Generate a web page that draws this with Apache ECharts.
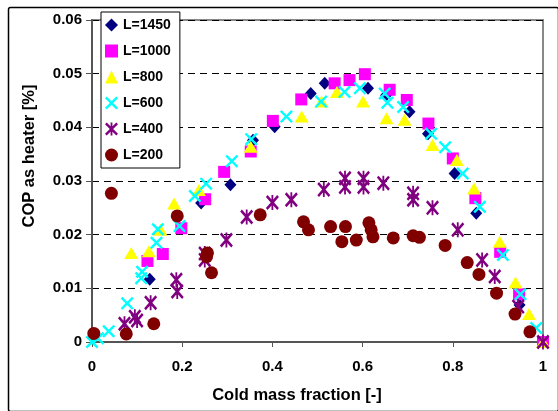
<!DOCTYPE html>
<html><head><meta charset="utf-8">
<script src="https://cdn.jsdelivr.net/npm/echarts@6/dist/echarts.min.js"></script>
<style>html,body{margin:0;padding:0;background:#fff}#c{width:558px;height:411px}</style>
</head><body><div id="c"></div>
<script>
const seriesNames = ['L=1450', 'L=1000', 'L=800', 'L=600', 'L=400', 'L=200'];
const xTickLabels = ['0', '0.2', '0.4', '0.6', '0.8', '1'];
const yTickLabels = ['0', '0.01', '0.02', '0.03', '0.04', '0.05', '0.06'];
const L1450 = [[0.128,0.0117],[0.242,0.0259],[0.307,0.0293],[0.357,0.0376],[0.405,0.0401],[0.485,0.0463],[0.516,0.0482],[0.612,0.0473],[0.652,0.046],[0.704,0.0429],[0.745,0.0388],[0.804,0.0314],[0.852,0.024],[0.948,0.0069],[1.0,0]];
const L1000 = [[0.123,0.0151],[0.157,0.0164],[0.198,0.0212],[0.251,0.0266],[0.293,0.0317],[0.352,0.0355],[0.401,0.0412],[0.464,0.0452],[0.538,0.0482],[0.571,0.0488],[0.605,0.0499],[0.660,0.047],[0.698,0.0451],[0.746,0.0407],[0.800,0.0342],[0.850,0.0268],[0.905,0.0168],[0.947,0.0089],[1.0,0]];
const L800 = [[0.087,0.0166],[0.126,0.0169],[0.152,0.0209],[0.182,0.0258],[0.237,0.0283],[0.352,0.0364],[0.465,0.042],[0.509,0.0448],[0.543,0.0466],[0.601,0.0448],[0.653,0.0417],[0.693,0.0414],[0.755,0.0367],[0.809,0.0339],[0.847,0.0286],[0.904,0.0187],[0.939,0.0111],[0.969,0.0052],[1.0,0]];
const L600 = [[0.0,0],[0.013,0.0007],[0.037,0.002],[0.078,0.0072],[0.109,0.0119],[0.111,0.0131],[0.143,0.0185],[0.146,0.021],[0.194,0.0216],[0.228,0.0272],[0.253,0.0295],[0.310,0.0337],[0.353,0.0378],[0.431,0.042],[0.508,0.0448],[0.560,0.0466],[0.594,0.0473],[0.649,0.0463],[0.655,0.0446],[0.690,0.0438],[0.752,0.0388],[0.783,0.0363],[0.822,0.0314],[0.860,0.0252],[0.911,0.0162],[0.950,0.0089],[0.985,0.0026]];
const L400 = [[0.072,0.0034],[0.095,0.0047],[0.100,0.0040],[0.130,0.0073],[0.187,0.0116],[0.189,0.0094],[0.250,0.0165],[0.250,0.0153],[0.298,0.019],[0.343,0.0233],[0.400,0.026],[0.442,0.0265],[0.514,0.0284],[0.561,0.0305],[0.561,0.0289],[0.602,0.0305],[0.602,0.0289],[0.646,0.0296],[0.712,0.0277],[0.712,0.0265],[0.755,0.025],[0.811,0.0209],[0.865,0.0153],[0.893,0.0122],[0.945,0.0066],[1.0,0]];
const L200 = [[0.004,0.0016],[0.043,0.0277],[0.076,0.0015],[0.137,0.0034],[0.189,0.0235],[0.256,0.0166],[0.254,0.0159],[0.265,0.0129],[0.373,0.0237],[0.469,0.0224],[0.480,0.0209],[0.529,0.0215],[0.562,0.0215],[0.554,0.0187],[0.586,0.019],[0.614,0.0222],[0.619,0.0209],[0.623,0.0196],[0.668,0.0194],[0.712,0.0198],[0.726,0.0195],[0.783,0.018],[0.832,0.0148],[0.858,0.0126],[0.897,0.0091],[0.938,0.0052],[0.971,0.0019]];

const xPath = 'path://M0,1.3L1.3,0L5,3.7L8.7,0L10,1.3L6.3,5L10,8.7L8.7,10L5,6.3L1.3,10L0,8.7L3.7,5Z';
const starPath = 'path://M0,1.3L1.3,0L5,3.7L8.7,0L10,1.3L6.3,5L10,8.7L8.7,10L5,6.3L1.3,10L0,8.7L3.7,5Z M4.3,0L5.7,0L5.7,10L4.3,10Z';

const datasets = [L1450, L1000, L800, L600, L400, L200];
const styles = [
  {symbol: 'diamond', size: [12, 13], color: '#000080'},
  {symbol: 'rect', size: 12, color: '#FF00FF'},
  {symbol: 'triangle', size: [14, 12], color: '#FFFF00'},
  {symbol: xPath, size: 13, color: '#00FFFF'},
  {symbol: starPath, size: [13, 15], color: '#800080'},
  {symbol: 'circle', size: 13, color: '#800000'}
];

const chart = echarts.init(document.getElementById('c'), null, {renderer: 'canvas'});
const bold = {fontFamily: 'Liberation Sans, Arial, sans-serif', fontWeight: 'bold', color: '#000'};
chart.setOption({
  backgroundColor: '#fff',
  animation: false,
  grid: {left: 92, right: 15, top: 20, bottom: 69, show: true, borderColor: '#888', borderWidth: 2, backgroundColor: 'transparent'},
  xAxis: {
    type: 'value', min: 0, max: 1, interval: 0.2,
    axisLine: {lineStyle: {color: '#555', width: 2}},
    axisTick: {inside: false, length: 5, lineStyle: {color: '#555', width: 1}},
    axisLabel: Object.assign({fontSize: 15, margin: 17, formatter: v => xTickLabels[Math.round(v / 0.2)]}, bold),
    splitLine: {show: false}
  },
  yAxis: {
    type: 'value', min: 0, max: 0.06, interval: 0.01,
    axisLine: {show: true, lineStyle: {color: '#555', width: 2}},
    axisTick: {show: true, inside: false, length: 6, lineStyle: {color: '#555', width: 1}},
    axisLabel: Object.assign({fontSize: 15, margin: 10, formatter: v => yTickLabels[Math.round(v / 0.01)]}, bold),
    splitLine: {show: true, lineStyle: {color: '#000', type: [7, 5], width: 1}}
  },
  legend: {
    orient: 'vertical', left: 101, top: 12,
    backgroundColor: '#fff', borderColor: '#000', borderWidth: 1,
    padding: [6, 9, 6, 4], itemGap: 12, itemWidth: 13, itemHeight: 13,
    textStyle: Object.assign({fontSize: 14, lineHeight: 14}, bold),
    data: seriesNames
  },
  graphic: [
    {type: 'rect', left: 6, top: 5, shape: {width: 550, height: 404, r: 2}, style: {fill: 'none', stroke: '#000', lineWidth: 1.5}, silent: true},
    {type: 'text', x: 29, y: 156, rotation: Math.PI / 2, style: {text: 'COP as heater [%]', font: 'bold 16.5px "Liberation Sans", Arial, sans-serif', fill: '#000', textAlign: 'center', textVerticalAlign: 'middle'}},
    {type: 'text', x: 297, y: 395, style: {text: 'Cold mass fraction [-]', font: 'bold 16.5px "Liberation Sans", Arial, sans-serif', fill: '#000', textAlign: 'center', textVerticalAlign: 'middle'}}
  ],
  series: datasets.map((d, i) => ({
    name: seriesNames[i], type: 'scatter', data: d,
    symbol: styles[i].symbol, symbolSize: styles[i].size,
    itemStyle: {color: styles[i].color, opacity: 1},
    z: 2 + i
  }))
});
</script>
</body></html>
